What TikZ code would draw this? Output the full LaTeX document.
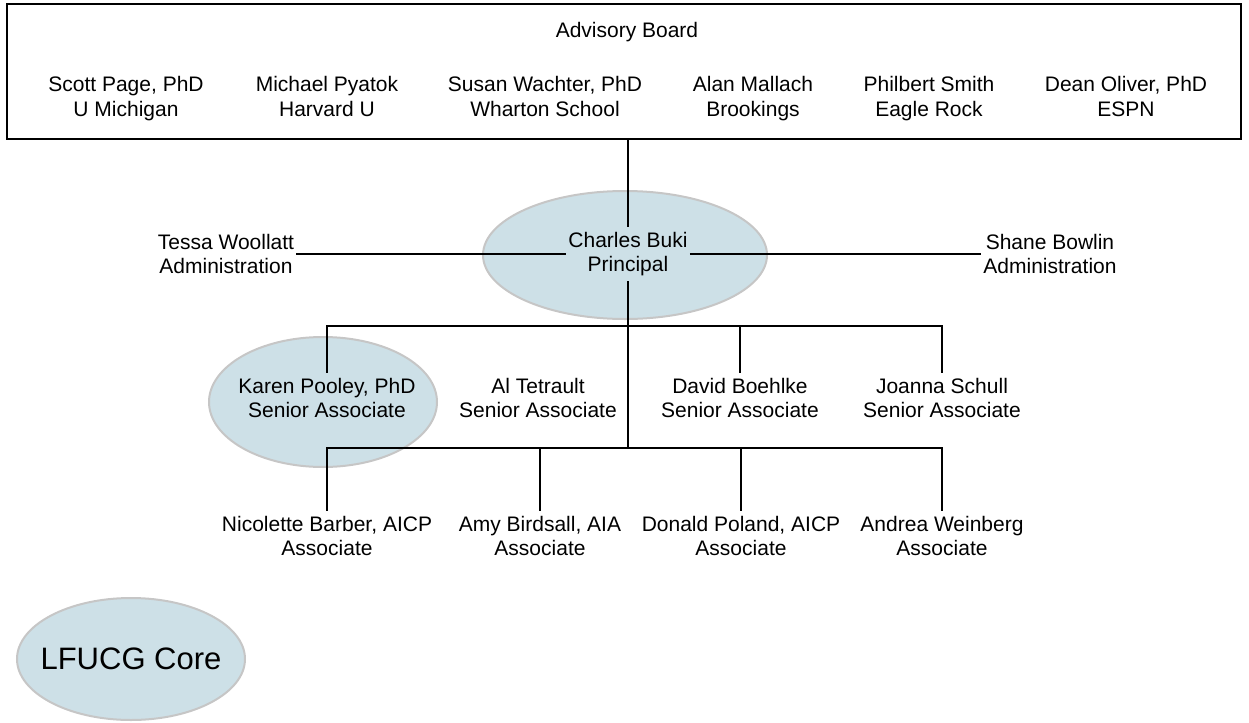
\documentclass[tikz,border=0pt]{standalone}
\usepackage{fontspec}
\setmainfont{Liberation Sans}
\usepackage{xcolor}
\usepackage{tikz}
\usetikzlibrary{shapes.geometric}
\definecolor{coreBlue}{RGB}{205,224,231}
\definecolor{coreRim}{RGB}{198,198,198}

\begin{document}
\begin{tikzpicture}[
    x=0.5pt, y=-0.5pt,
    person/.style={align=center, inner xsep=1pt, inner ysep=2.5pt, font=\fontsize{10.5}{12.3}\selectfont},
    member/.style={person, anchor=north},
    boardbox/.style={rectangle, draw=black, line width=0.6pt, minimum width=617pt, minimum height=67.5pt, inner sep=0pt},
    core/.style={ellipse, fill=coreBlue, draw=coreRim, line width=1pt, inner sep=0pt},
    link/.style={draw=black, line width=0.65pt}
]
\useasboundingbox (0,0) rectangle (1249,723);

% Advisory board
\node[boardbox] (board) at (624,71.5) {};
\node[person] (advisory) at (627,32) {Advisory Board};
\node[member] (page) at (126,71) {Scott Page, PhD\\U Michigan};
\node[member] (pyatok) at (327,71) {Michael Pyatok\\Harvard U};
\node[member] (wachter) at (545,71) {Susan Wachter, PhD\\Wharton School};
\node[member] (mallach) at (753,71) {Alan Mallach\\Brookings};
\node[member] (smith) at (929,71) {Philbert Smith\\Eagle Rock};
\node[member] (oliver) at (1126,71) {Dean Oliver, PhD\\ESPN};

% Highlights (LFUCG core)
\node[core, minimum width=142pt, minimum height=64pt] (principalhl) at (625,255) {};
\node[core, minimum width=114pt, minimum height=65pt] (pooleyhl) at (323,402) {};

% Principal and administration
\node[person] (principal) at (628,254) {Charles Buki\\Principal};
\node[person] (woollatt) at (226,254) {Tessa Woollatt\\Administration};
\node[person] (bowlin) at (1050,254) {Shane Bowlin\\Administration};

% Senior associates
\node[person] (pooley) at (327,398) {Karen Pooley, PhD\\Senior Associate};
\node[person] (tetrault) at (538,398) {Al Tetrault\\Senior Associate};
\node[person] (boehlke) at (740,398) {David Boehlke\\Senior Associate};
\node[person] (schull) at (942,398) {Joanna Schull\\Senior Associate};

% Associates
\node[person] (barber) at (327,536) {Nicolette Barber, AICP\\Associate};
\node[person] (birdsall) at (540,536) {Amy Birdsall, AIA\\Associate};
\node[person] (poland) at (741,536) {Donald Poland, AICP\\Associate};
\node[person] (weinberg) at (942,536) {Andrea Weinberg\\Associate};

% Legend
\node[core, minimum width=114pt, minimum height=61pt,
      label={[font=\fontsize{15.5}{18}\selectfont]center:LFUCG Core}] (legend) at (131,659) {};

% Lines
\coordinate (upperbar) at (628,326);
\coordinate (lowerbar) at (628,448);
\draw[link] (principal.north) -- (principal.north |- board.south);
\draw[link] (woollatt.east) -- (principal.west);
\draw[link] (principal.east) -- (bowlin.west);
\draw[link] (principal.south) -- (lowerbar);
\draw[link] (pooley.north) |- (upperbar) -| (schull.north);
\draw[link] (boehlke.north) -- (boehlke.north |- upperbar);
\draw[link] (barber.north) |- (lowerbar) -| (weinberg.north);
\draw[link] (birdsall.north) -- (birdsall.north |- lowerbar);
\draw[link] (poland.north) -- (poland.north |- lowerbar);

\end{tikzpicture}
\end{document}
